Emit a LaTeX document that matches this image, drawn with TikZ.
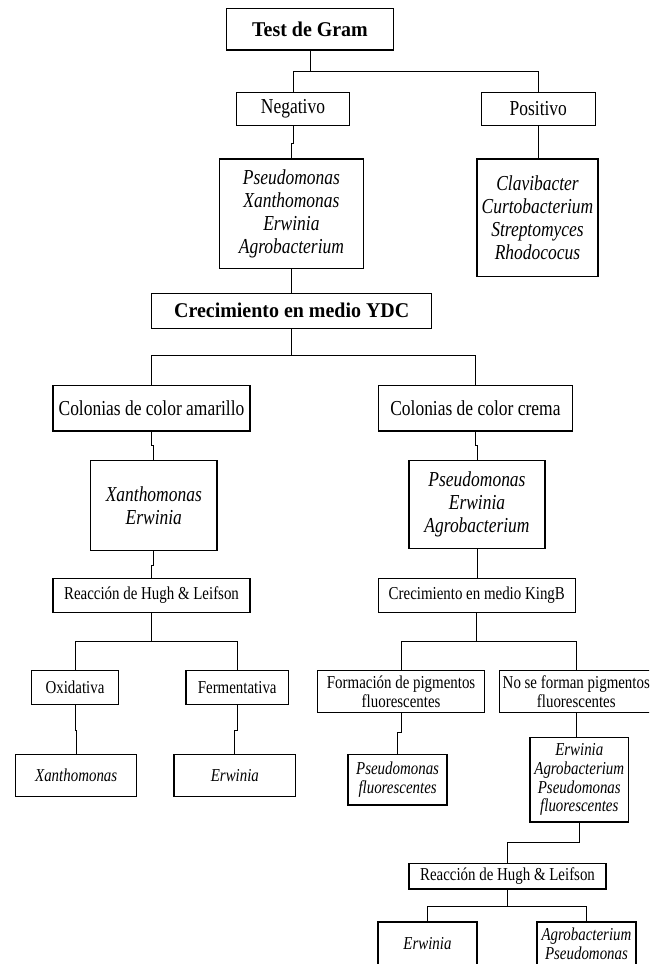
\documentclass[tikz,border=0pt]{standalone}
\usepackage{fontspec}
\setmainfont{Liberation Serif}[FakeStretch=0.82]
\newfontfamily\serifB{Liberation Serif}[FakeStretch=0.95]
\newcommand{\FontBold}{\serifB\bfseries\fontsize{21}{24}\selectfont}
\newcommand{\FontMid}{\fontsize{21.3}{23.2}\selectfont}
\newcommand{\FontSmall}{\fontsize{18.2}{18.6}\selectfont}
\tikzset{
  box/.style={draw, line width=1.4pt, inner sep=0pt, align=center, rectangle},
  bigbox/.style={box, font=\FontBold},
  midbox/.style={box, font=\FontMid},
  midit/.style={box, font=\FontMid\itshape},
  smbox/.style={box, font=\FontSmall},
  smit/.style={box, font=\FontSmall\itshape},
  conn/.style={draw, line width=1pt}
}
\begin{document}
\begin{tikzpicture}[x=1pt,y=-1pt]
\useasboundingbox (0,0) rectangle (649,964);
\fill[white] (0,0) rectangle (649,964);
\clip (0,0) rectangle (649,964);

% nodes
\node[bigbox, minimum width=166.6pt, minimum height=41.7pt] (gram) at (310,29.2) {Test de Gram};
\node[midbox, minimum width=113.4pt, minimum height=33.4pt] (neg) at (293,109) {Negativo};
\node[midbox, minimum width=113.8pt, minimum height=33.4pt] (pos) at (538.3,109) {Positivo};
\node[midit, minimum width=144pt, minimum height=109.3pt] (g1) at (291.4,213.7) {Pseudomonas\\Xanthomonas\\Erwinia\\Agrobacterium};
\node[midit, minimum width=121.3pt, minimum height=117.7pt] (g2) at (537.5,217.8) {Clavibacter\\Curtobacterium\\Streptomyces\\Rhodococus};
\node[bigbox, minimum width=280pt, minimum height=35pt] (ydc) at (291.7,310.8) {Crecimiento en medio YDC};
\node[midbox, minimum width=197pt, minimum height=45.7pt] (am) at (151.5,408.2) {Colonias de color amarillo};
\node[midbox, minimum width=194.1pt, minimum height=45.7pt] (cr) at (475.4,408.2) {Colonias de color crema};
\node[midit, minimum width=126.3pt, minimum height=89.6pt] (xe) at (153.8,505.5) {Xanthomonas\\Erwinia};
\node[midit, minimum width=136.1pt, minimum height=87.6pt] (pea) at (477,504.5) {Pseudomonas\\Erwinia\\Agrobacterium};
\node[smbox, minimum width=197pt, minimum height=34pt] (hl1) at (151.5,595.3) {Reacción de Hugh \& Leifson};
\node[smbox, minimum width=197pt, minimum height=34pt] (kb) at (476.8,595.3) {Crecimiento en medio KingB};
\node[smbox, minimum width=86.6pt, minimum height=34pt] (ox) at (75,687.2) {Oxidativa};
\node[smbox, minimum width=102.3pt, minimum height=34pt] (fe) at (237.2,687.2) {Fermentativa};
\node[smbox, minimum width=167.2pt, minimum height=42pt] (fp) at (401.1,691.7) {Formación de pigmentos\\fluorescentes};
\node[smbox, minimum width=153.4pt, minimum height=42pt] (nf) at (576.3,691.7) {No se forman pigmentos\\fluorescentes};
\node[smit, minimum width=121pt, minimum height=42.4pt] (xan) at (76.2,775.5) {Xanthomonas};
\node[smit, minimum width=121.7pt, minimum height=42.4pt] (erw) at (234.9,775.5) {Erwinia};
\node[smit, minimum width=98.9pt, minimum height=50.7pt] (pf) at (397.6,779.7) {Pseudomonas\\fluorescentes};
\node[smit, minimum width=98.9pt, minimum height=84.7pt] (eapf) at (579.3,779.7) {Erwinia\\Agrobacterium\\Pseudomonas\\fluorescentes};
\node[smbox, minimum width=197pt, minimum height=25.7pt] (hl2) at (507.5,876.2) {Reacción de Hugh \& Leifson};
\node[smit, minimum width=99pt, minimum height=44pt] (erw2) at (427.5,944) {Erwinia};
\node[smit, minimum width=99pt, minimum height=44pt] (agp) at (586.5,944) {Agrobacterium\\Pseudomonas};

% connectors
\draw[conn] (gram.south) -- ++(0,20.3) coordinate (j1) -| (neg.north);
\draw[conn] (j1) -| (pos.north);
\draw[conn] (neg.south) -- ++(0,17) -| (g1.north);
\draw[conn] (pos.south) -- (pos.south |- g2.north);
\draw[conn] (g1.south) -- (g1.south |- ydc.north);
\draw[conn] (ydc.south) -- ++(0,26.7) coordinate (j2) -| (am.north);
\draw[conn] (j2) -| (cr.north);
\draw[conn] (am.south) -- ++(0,14) -| (xe.north);
\draw[conn] (cr.south) -- ++(0,14) -| (pea.north);
\draw[conn] (xe.south) -- ++(0,14) -| (hl1.north);
\draw[conn] (pea.south) -- (pea.south |- kb.north);
\draw[conn] (hl1.south) -- ++(0,28.2) coordinate (j3) -| (ox.north);
\draw[conn] (j3) -| (fe.north);
\draw[conn] (kb.south) -- ++(0,28.2) coordinate (j4) -| (fp.north);
\draw[conn] (j4) -| (nf.north);
\draw[conn] (ox.south) -- ++(0,26) -| (xan.north);
\draw[conn] (fe.south) -- ++(0,26) -| (erw.north);
\draw[conn] (fp.south) -- ++(0,19) -| (pf.north);
\draw[conn] (nf.south) -- (nf.south |- eapf.north);
\draw[conn] (eapf.south) -- ++(0,19.7) -| (hl2.north);
\draw[conn] (hl2.south) -- ++(0,16.7) coordinate (j5) -| (erw2.north);
\draw[conn] (j5) -| (agp.north);
\end{tikzpicture}
\end{document}
